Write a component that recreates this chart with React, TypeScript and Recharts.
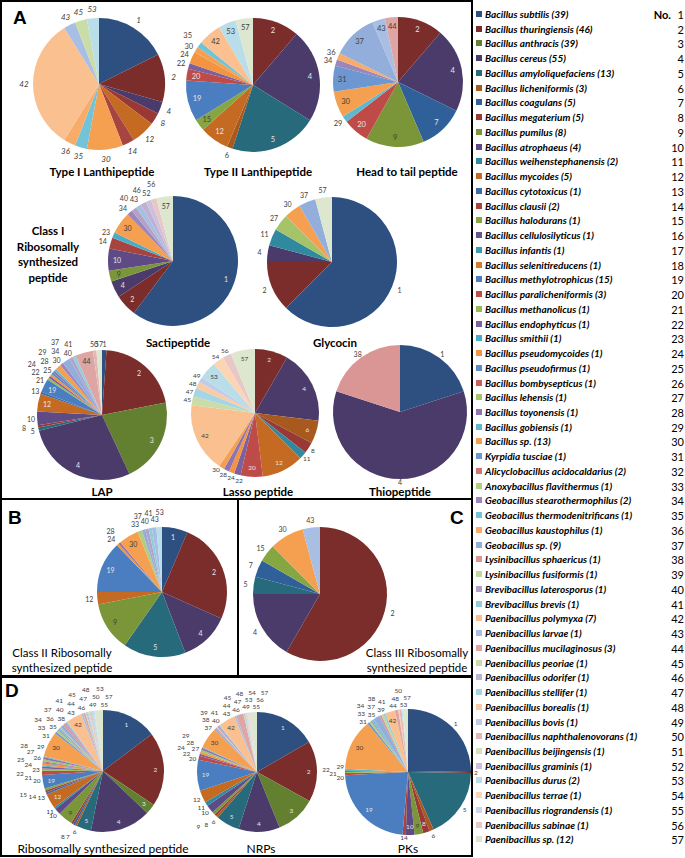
import React from "react";
import { PieChart, Pie, Cell } from "recharts";

// ---------- species (legend) ----------
const speciesNames = [
  "Bacillus subtilis (39)", "Bacillus thuringiensis (46)", "Bacillus anthracis (39)", "Bacillus cereus (55)",
  "Bacillus amyloliquefaciens (13)", "Bacillus licheniformis (3)", "Bacillus coagulans (5)", "Bacillus megaterium (5)",
  "Bacillus pumilus (8)", "Bacillus atrophaeus  (4)", "Bacillus weihenstephanensis (2)", "Bacillus mycoides  (5)",
  "Bacillus cytotoxicus (1)", "Bacillus clausii (2)", "Bacillus halodurans (1)", "Bacillus cellulosilyticus (1)",
  "Bacillus infantis (1)", "Bacillus selenitireducens (1)", "Bacillus methylotrophicus (15)", "Bacillus paralicheniformis (3)",
  "Bacillus methanolicus (1)", "Bacillus endophyticus (1)", "Bacillus smithii (1)", "Bacillus pseudomycoides (1)",
  "Bacillus pseudofirmus (1)", "Bacillus bombysepticus (1)", "Bacillus lehensis (1)", "Bacillus toyonensis (1)",
  "Bacillus gobiensis (1)", "Bacillus sp. (13)", "Kyrpidia tusciae (1)", "Alicyclobacillus acidocaldarius (2)",
  "Anoxybacillus flavithermus (1)", "Geobacillus stearothermophilus (2)", "Geobacillus thermodenitrificans (1)", "Geobacillus kaustophilus (1)",
  "Geobacillus sp. (9)", "Lysinibacillus sphaericus (1)", "Lysinibacillus fusiformis (1)", "Brevibacillus laterosporus (1)",
  "Brevibacillus brevis (1)", "Paenibacillus polymyxa (7)", "Paenibacillus larvae (1)", "Paenibacillus mucilaginosus (3)",
  "Paenibacillus peoriae (1)", "Paenibacillus odorifer (1)", "Paenibacillus stellifer (1)", "Paenibacillus borealis (1)",
  "Paenibacillus bovis (1)", "Paenibacillus naphthalenovorans (1)", "Paenibacillus beijingensis (1)", "Paenibacillus graminis (1)",
  "Paenibacillus durus (2)", "Paenibacillus terrae (1)", "Paenibacillus riograndensis (1)", "Paenibacillus sabinae (1)",
  "Paenibacillus sp. (12)",
];

const speciesColors = [
  "#2E5080", "#7A2D2B", "#62802F", "#4B3B6A", "#276A7C", "#A85A1E",
  "#30609A", "#9A3835", "#7A9638", "#5E4A84", "#3189A0", "#C46A22",
  "#3A6DAA", "#A84440", "#86A642", "#6A5490", "#3C9AB2", "#D47B2E",
  "#4A7EC0", "#BE4B48", "#98B954", "#7D60A0", "#4AACC5", "#F29440",
  "#5A8BCB", "#C85F5C", "#A5C46A", "#8E74B0", "#60B8CF", "#F5A050",
  "#6C97D0", "#D07570", "#B2CC80", "#9C86BA", "#74C2D6", "#F7AC6A",
  "#93AEDB", "#D99694", "#C3D69B", "#B3A2C7", "#93CDDD", "#FAC090",
  "#A9BEE3", "#DDA6A4", "#CADDA8", "#BFB1D2", "#A6D6E4", "#FBCBA5",
  "#BFCDE6", "#E3B7B5", "#D4E3BB", "#CCC0DC", "#B9DEEA", "#FCD5B5",
  "#CCD7EB", "#E8C8C6", "#DDE7CF",
];

// ---------- panel A ----------
const typeIIds = [1, 2, 4, 8, 12, 14, 30, 35, 36, 42, 43, 45, 53];
const typeIValues = [6, 4, 1, 1, 2, 1, 3, 1, 1, 11, 1, 1, 1];

const typeIIIds = [2, 4, 5, 6, 12, 15, 19, 20, 22, 24, 30, 35, 42, 53, 57];
const typeIIValues = [8, 16, 15, 1, 5, 2, 7, 2, 1, 2, 1, 1, 4, 3, 3];

const headTailIds = [2, 4, 7, 9, 20, 29, 30, 31, 34, 36, 37, 43, 44];
const headTailValues = [7, 13, 7, 9, 4, 1, 4, 4, 1, 1, 7, 2, 2];

const sactiIds = [1, 2, 4, 9, 10, 14, 23, 30, 34, 40, 43, 46, 52, 56, 57];
const sactiValues = [44, 4, 3, 2, 4, 2, 1, 4, 1, 1, 1, 1, 1, 1, 3];

const glycoIds = [1, 2, 4, 11, 27, 30, 37, 57];
const glycoValues = [15, 3, 1, 1, 1, 1, 1, 1];

const lapIds = [1, 2, 3, 4, 5, 8, 10, 12, 13, 19, 21, 22, 24, 25, 28, 29, 30, 34, 37, 40, 41, 44, 50, 57];
const lapValues = [4, 75, 76, 101, 3, 2, 12, 16, 2, 12, 2, 2, 2, 2, 2, 2, 5, 3, 7, 3, 3, 16, 3, 5];

const lassoIds = [2, 4, 6, 8, 11, 12, 20, 22, 24, 28, 30, 42, 45, 47, 48, 49, 53, 54, 56, 57];
const lassoValues = [30, 67, 21, 10, 7, 38, 20, 6, 5, 5, 5, 63, 8, 8, 6, 5, 16, 10, 8, 22];

const thioIds = [1, 4, 38];
const thioValues = [1, 3, 1];

// ---------- panels B, C ----------
const class2Ids = [1, 2, 4, 5, 9, 12, 19, 24, 28, 30, 33, 37, 40, 41, 43, 53];
const class2Values = [23, 91, 45, 56, 44, 11, 46, 2, 2, 18, 4, 3, 3, 3, 4, 5];

const class3Ids = [2, 4, 5, 7, 15, 30, 43];
const class3Values = [14, 4, 1, 1, 1, 2, 1];

// ---------- panel D ----------
const riboIds = [1, 2, 3, 4, 5, 6, 7, 8, 9, 10, 11, 12, 13, 14, 15, 19, 20, 21, 22, 23, 24, 25, 26, 27, 28, 29, 30,
  31, 33, 34, 35, 36, 37, 38, 40, 41, 42, 43, 44, 45, 46, 47, 48, 49, 50, 53, 55, 57];
const riboValues = [53, 71, 10, 58, 14, 2, 2, 2, 14, 6, 2, 14, 2, 2, 2, 13, 4, 2, 2, 1, 2, 1, 1, 2, 2, 1, 24,
  2, 2, 1, 2, 1, 3, 2, 2, 1, 15, 2, 2, 1, 1, 1, 1, 1, 1, 2, 1, 8];

const nrpsIds = [1, 2, 3, 4, 5, 6, 8, 9, 10, 11, 12, 19, 20, 22, 24, 27, 28, 29, 30, 37, 38, 39, 40, 41, 42, 43, 44,
  45, 46, 47, 48, 49, 53, 54, 55, 56, 57];
const nrpsValues = [60, 59, 39, 40, 23, 2, 2, 3, 8, 4, 12, 30, 4, 2, 2, 2, 2, 1, 20, 2, 1, 1, 2, 1, 16, 2, 7,
  0.7, 0.7, 0.7, 0.7, 0.7, 0.7, 0.7, 0.7, 0.7, 7];

const pksIds = [1, 2, 5, 6, 8, 9, 10, 14, 19, 20, 21, 22, 29, 30, 31, 33, 34, 35, 37, 38, 39, 41, 42, 44, 48, 50, 53, 57];
const pksValues = [89, 2, 65, 4, 6, 8, 8, 3, 82, 2, 1, 1, 2, 47, 2, 2, 1, 2, 6, 2, 2, 2, 9, 3, 1, 2, 1, 5];

type PieSpec = {
  key: string; ids: number[]; values: number[]; cx: number; cy: number; r: number;
  threshold: number; forceOut?: number[]; fontSize: number; italic?: boolean; outOffset?: number; inFactor?: number;
  sp?: number; levels?: number; step?: number; maxY?: number;
};

const pies: PieSpec[] = [
  { key: "t1", ids: typeIIds, values: typeIValues, cx: 99, cy: 84, r: 66, threshold: 999, fontSize: 8, italic: true, outOffset: 9, sp: 7 },
  { key: "t2", ids: typeIIIds, values: typeIIValues, cx: 253, cy: 85, r: 67, threshold: 9.5, forceOut: [24], fontSize: 7.5, sp: 6, levels: 2, step: 7 },
  { key: "ht", ids: headTailIds, values: headTailValues, cx: 398, cy: 82, r: 65, threshold: 10, fontSize: 7.5, sp: 7 },
  { key: "sa", ids: sactiIds, values: sactiValues, cx: 173, cy: 261, r: 65, threshold: 9.5, forceOut: [14], fontSize: 7, sp: 5.5, levels: 2, step: 7 },
  { key: "gl", ids: glycoIds, values: glycoValues, cx: 332, cy: 262, r: 65, threshold: 999, fontSize: 7 },
  { key: "lap", ids: lapIds, values: lapValues, cx: 102, cy: 415, r: 65, threshold: 12, forceOut: [10], fontSize: 7, sp: 3.5, levels: 3, step: 8, outOffset: 6 },
  { key: "la", ids: lassoIds, values: lassoValues, cx: 255, cy: 413, r: 64, threshold: 15, fontSize: 6.5, sp: 7, outOffset: 5 },
  { key: "th", ids: thioIds, values: thioValues, cx: 400, cy: 412, r: 67, threshold: 999, fontSize: 7, outOffset: 5, maxY: 481 },
  { key: "c2", ids: class2Ids, values: class2Values, cx: 162, cy: 592, r: 65, threshold: 15, forceOut: [12], fontSize: 7, sp: 4, levels: 2, step: 7 },
  { key: "c3", ids: class3Ids, values: class3Values, cx: 320, cy: 594, r: 67, threshold: 999, fontSize: 7 },
  { key: "ri", ids: riboIds, values: riboValues, cx: 103, cy: 771, r: 61, threshold: 8, fontSize: 6.5, sp: 3.3, levels: 3, step: 8, outOffset: 6, maxY: 836 },
  { key: "nr", ids: nrpsIds, values: nrpsValues, cx: 257, cy: 772, r: 60, threshold: 7, forceOut: [10, 12], fontSize: 6.5, sp: 3, levels: 3, step: 7, outOffset: 6, maxY: 836 },
  { key: "pk", ids: pksIds, values: pksValues, cx: 408, cy: 772, r: 63, threshold: 6, forceOut: [1, 5, 37], fontSize: 6.5, sp: 3, levels: 3, step: 7, outOffset: 5, maxY: 837 },
];

const lum = (hex: string) => {
  const n = parseInt(hex.slice(1), 16);
  return (0.299 * ((n >> 16) & 255) + 0.587 * ((n >> 8) & 255) + 0.114 * (n & 255)) / 255;
};

// label placement: inside near the rim for big slices; small slices get outside labels fanned out
const labelLayout = (spec: PieSpec) => {
  const total = spec.values.reduce((a, b) => a + b, 0);
  const sp = spec.sp ?? 8;
  const levels = spec.levels ?? 1;
  const step = spec.step ?? 8;
  let cum = 0;
  const items = spec.values.map((v, i) => {
    const id = spec.ids[i];
    const sweep = (v / total) * 360;
    let mid = cum + sweep / 2;
    cum += sweep;
    const inside = sweep >= spec.threshold && !(spec.forceOut || []).includes(id);
    return { id, mid, inside, ang: mid, level: 0 };
  });
  // wrap tiny labels just right of 12 o'clock onto the end so they cluster with the last slices
  const outs = items
    .filter((o) => !o.inside)
    .map((o) => { if (o.mid < 12) o.mid += 360; return o; })
    .sort((a, b) => a.mid - b.mid);
  let clusters = outs.map((o) => ({ items: [o] }));
  const center = (c: any) => c.items.reduce((s: number, o: any) => s + o.mid, 0) / c.items.length;
  const half = (c: any) => ((c.items.length - 1) * sp) / 2;
  let merged = true;
  while (merged) {
    merged = false;
    for (let i = 0; i < clusters.length - 1; i++) {
      const a = clusters[i], b = clusters[i + 1];
      if (center(b) - half(b) - (center(a) + half(a)) < sp) {
        clusters.splice(i, 2, { items: [...a.items, ...b.items] });
        merged = true;
        break;
      }
    }
  }
  clusters.forEach((c) => {
    const c0 = center(c) - half(c);
    c.items.forEach((o, k) => { o.ang = c0 + k * sp; o.level = k % levels; });
  });
  return items.map((o) => {
    let rr = o.inside ? spec.r * (spec.inFactor ?? 0.86) : spec.r + (spec.outOffset ?? 8) + o.level * step;
    const a = (o.ang * Math.PI) / 180;
    const c = -Math.cos(a);
    if (!o.inside && spec.maxY != null && c > 0 && spec.cy + rr * c > spec.maxY) {
      rr = Math.max(spec.r + 3, (spec.maxY - spec.cy) / c);
    }
    return { id: o.id, inside: o.inside, dx: rr * Math.sin(a), dy: rr * c };
  });
};

const makeLabel = (spec: PieSpec) => {
  const layout = labelLayout(spec);
  return (props: any) => {
    const idx = props.index ?? spec.ids.indexOf(props.payload?.id);
    const L = layout[idx];
    if (!L) return null;
    const col = speciesColors[L.id - 1];
    const fill = L.inside ? (lum(col) < 0.5 ? "#e4e4e4" : "#404040") : "#404040";
    return (
      <text key={`${spec.key}-l-${L.id}`} x={props.cx + L.dx} y={props.cy + L.dy} textAnchor="middle" dominantBaseline="central"
        fontSize={spec.fontSize} fontStyle={spec.italic ? "italic" : "normal"} fill={fill}
        fontFamily="Lato, 'Open Sans', sans-serif">{L.id}</text>
    );
  };
};

const FONT = "Lato, 'Open Sans', sans-serif";

const T = ({ x, y, children, size = 12, weight = 700, anchor = "middle", italic = false, family = FONT }: any) => (
  <div style={{
    position: "absolute", left: x, top: y,
    transform: `translate(${anchor === "middle" ? "-50%" : anchor === "end" ? "-100%" : "0"}, -50%)`,
    fontSize: size, fontWeight: weight, fontStyle: italic ? "italic" : "normal", fontFamily: family,
    whiteSpace: "nowrap", lineHeight: 1, color: "#000",
  }}>{children}</div>
);

const Line = ({ l, t, w, h }: any) => (
  <div style={{ position: "absolute", left: l, top: t, width: w, height: h, background: "#000" }} />
);

export default function App() {
  return (
    <div style={{ position: "absolute", left: 0, top: 0, width: 685, height: 858, background: "#fff", overflow: "hidden" }}>
      <PieChart width={685} height={858} margin={{ top: 0, right: 0, bottom: 0, left: 0 }}
        style={{ position: "absolute", left: 0, top: 0 }}>
        {pies.map((p) => {
          const data = p.ids.map((id, i) => ({ id, name: String(id), value: p.values[i], fill: speciesColors[id - 1] }));
          return (
            <Pie key={p.key} data={data} dataKey="value" nameKey="name" cx={p.cx} cy={p.cy} outerRadius={p.r}
              innerRadius={0} startAngle={90} endAngle={-270} isAnimationActive={false} stroke="none"
              label={makeLabel(p)} labelLine={false}>
              {data.map((d) => <Cell key={`${p.key}-${d.id}`} fill={d.fill} stroke="none" />)}
            </Pie>
          );
        })}
      </PieChart>

      {/* borders */}
      <Line l={0} t={0} w={473} h={2} />
      <Line l={0} t={0} w={2} h={857} />
      <Line l={471} t={0} w={2} h={857} />
      <Line l={0} t={498} w={473} h={2} />
      <Line l={237} t={499} w={2} h={178} />
      <Line l={0} t={675} w={473} h={3} />
      <Line l={0} t={855} w={473} h={2} />

      {/* panel letters */}
      <T x={13} y={17} size={19} anchor="start" family="'Liberation Sans', Arial, sans-serif">A</T>
      <T x={8} y={517} size={19} anchor="start" family="'Liberation Sans', Arial, sans-serif">B</T>
      <T x={450} y={517} size={19} anchor="start" family="'Liberation Sans', Arial, sans-serif">C</T>
      <T x={5} y={690} size={19} anchor="start" family="'Liberation Sans', Arial, sans-serif">D</T>

      {/* titles A */}
      <T x={102} y={172} size={11.5}>Type I Lanthipeptide</T>
      <T x={258} y={172} size={11.5}>Type II Lanthipeptide</T>
      <T x={407} y={172} size={11.5}>Head to tail peptide</T>
      <T x={48} y={231} size={11.5}>Class I</T>
      <T x={48} y={247} size={11.5}>Ribosomally</T>
      <T x={48} y={262} size={11.5}>synthesized</T>
      <T x={48} y={278} size={11.5}>peptide</T>
      <T x={178} y={343} size={11.5}>Sactipeptide</T>
      <T x={335} y={343} size={11.5}>Glycocin</T>
      <T x={102} y={492} size={11.5}>LAP</T>
      <T x={258} y={492} size={11.5}>Lasso peptide</T>
      <T x={400} y={492} size={11.5}>Thiopeptide</T>

      {/* titles B, C */}
      <T x={62} y={653} size={11.5} weight={400}>Class II Ribosomally</T>
      <T x={62} y={668} size={11.5} weight={400}>synthesized peptide</T>
      <T x={417} y={653} size={11.5} weight={400}>Class III Ribosomally</T>
      <T x={417} y={668} size={11.5} weight={400}>synthesized peptide</T>

      {/* titles D */}
      <T x={103} y={849} size={12} weight={400}>Ribosomally synthesized peptide</T>
      <T x={261} y={849} size={12} weight={400}>NRPs</T>
      <T x={408} y={849} size={12} weight={400}>PKs</T>

      {/* legend */}
      <T x={671} y={14} size={11} anchor="end">No.</T>
      {speciesNames.map((name, i) => {
        const y = 14 + i * 14.74;
        return (
          <React.Fragment key={`lg-${i}`}>
            <div style={{ position: "absolute", left: 476, top: y - 3, width: 6, height: 6, background: speciesColors[i] }} />
            <T x={485} y={y} size={10} anchor="start" italic>{name}</T>
            <T x={684} y={y} size={11} weight={400} anchor="end">{i + 1}</T>
          </React.Fragment>
        );
      })}
    </div>
  );
}
